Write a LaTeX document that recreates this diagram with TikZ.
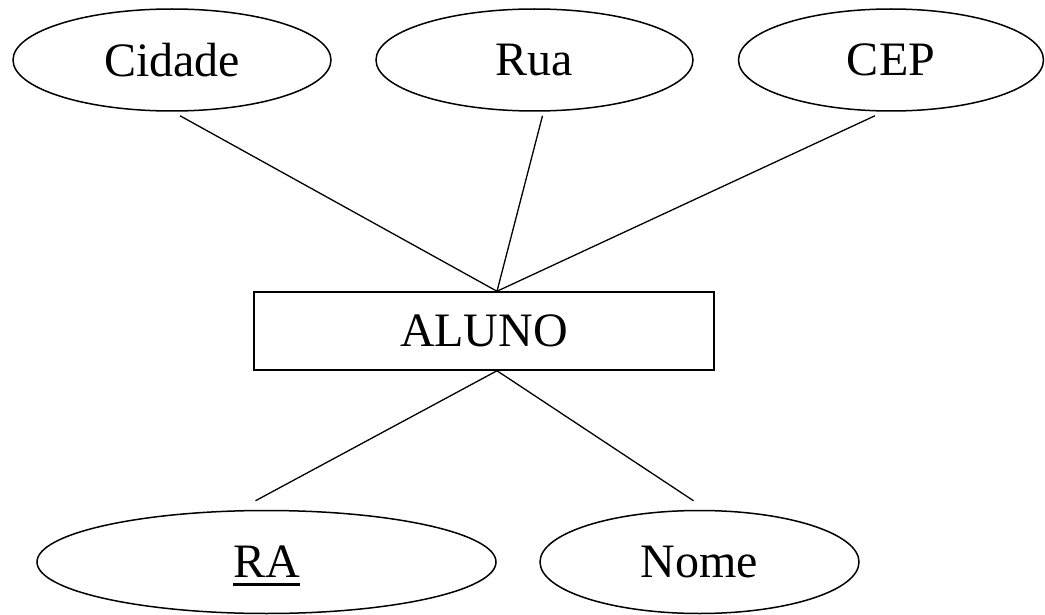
\documentclass[tikz,border=0pt]{standalone}
\usepackage{fontspec}
\setmainfont{Liberation Serif}
\usetikzlibrary{shapes.geometric}
\begin{document}
\begin{tikzpicture}[x=1pt,y=-1pt,
  attr/.style={draw,ellipse,line width=1.5pt,inner sep=0pt,minimum height=102pt,font=\fontsize{48}{56}\selectfont},
  ent/.style={draw,rectangle,line width=1.5pt,inner sep=0pt,minimum width=460pt,minimum height=78pt,font=\fontsize{48}{56}\selectfont},
  link/.style={line width=1.3pt}]
\useasboundingbox (0,0) rectangle (1045,615);
\node[attr,minimum width=318pt] (cid) at (172,60) {Cidade};
\node[attr,minimum width=317pt] (rua) at (534.5,60) {Rua};
\node[attr,minimum width=305pt] (cep) at (891,60) {CEP};
\node[ent] (al) at (484,331) {ALUNO};
\node[attr,minimum width=459pt,minimum height=103pt] (ra) at (266.5,562) {\makebox[0pt][l]{\smash{\rule[-8pt]{66.7pt}{3pt}}}RA};
\node[attr,minimum width=319pt,minimum height=103pt] (nome) at (699.5,562) {Nome};
\draw[link] ([xshift=8pt,yshift=-4pt]cid.south) -- ([xshift=13pt]al.north);
\draw[link] ([xshift=8pt,yshift=-4pt]rua.south) -- ([xshift=13pt]al.north);
\draw[link] ([xshift=-16pt,yshift=-4pt]cep.south) -- ([xshift=13pt]al.north);
\draw[link] ([xshift=13pt]al.south) -- ([xshift=-11pt,yshift=9pt]ra.north);
\draw[link] ([xshift=13pt]al.south) -- ([xshift=-6pt,yshift=9pt]nome.north);
\end{tikzpicture}
\end{document}
